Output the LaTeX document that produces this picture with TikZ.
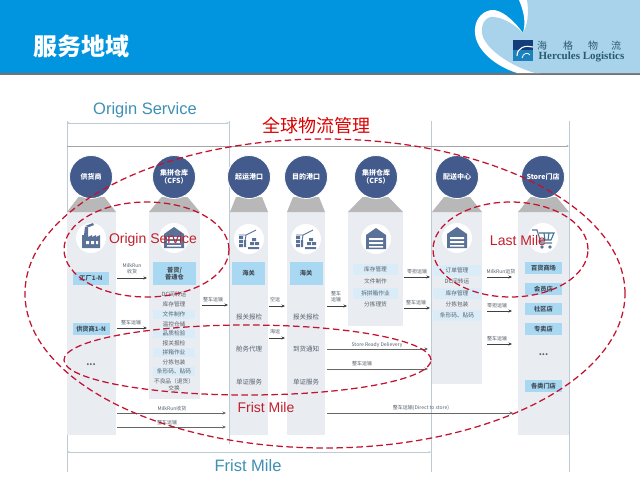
\documentclass[tikz,border=0pt]{standalone}
\usepackage{fontspec}
\setmainfont{Noto Sans CJK SC}
\newfontfamily\latinsans{Liberation Sans}
\newfontfamily\latinserif{Liberation Serif}
\usetikzlibrary{arrows.meta}
\definecolor{headblue}{HTML}{0095DE}
\definecolor{paleblue}{HTML}{A9D3EB}
\definecolor{hubblue}{HTML}{425A8C}
\definecolor{capgray}{HTML}{B8B8B8}
\definecolor{bodygray}{HTML}{E9EDF2}
\definecolor{tagblue}{HTML}{A9D8F3}
\definecolor{hlblue}{HTML}{DAECF7}
\definecolor{iconblue}{HTML}{5A7298}
\definecolor{guide}{HTML}{BCCBD4}
\definecolor{dashred}{HTML}{C4122F}
\definecolor{labelred}{HTML}{C0202C}
\definecolor{dimtext}{HTML}{3E90B4}
\definecolor{txt}{HTML}{55606B}
\definecolor{logotxt}{HTML}{2A5A72}
\definecolor{logotop}{HTML}{123F7C}
\definecolor{logobot}{HTML}{1A80BE}
\tikzset{
  x=1pt,y=-1pt,
  hub/.style={circle,fill=hubblue,draw=white,line width=.8pt,minimum size=43pt,inner sep=0pt,text=white,align=center,font=\fontsize{7}{8.6}\selectfont\bfseries},
  iconbg/.style={circle,fill=white,minimum size=30pt,inner sep=0pt},
  tag/.style={fill=tagblue,inner sep=0pt,text=txt!80!black,align=center,font=\fontsize{6.2}{7.6}\selectfont\bfseries},
  rowtxt/.style={inner sep=0pt,text=txt,align=center,font=\fontsize{5.7}{7}\selectfont},
  rowhl/.style={rowtxt,fill=hlblue},
  bigtxt/.style={inner sep=0pt,text=txt,font=\fontsize{6.5}{8}\selectfont},
  flowlabel/.style={inner sep=0pt,text=txt,align=center,font=\fontsize{5}{6.4}\selectfont},
  flowline/.style={draw=black!75,line width=.6pt,-{Stealth[length=3.5pt,width=3pt]}},
  longline/.style={draw=black!60,line width=.8pt,-{Stealth[length=3.5pt,width=3pt]}},
  guideline/.style={draw=guide,line width=.8pt},
  dimline/.style={draw=black!35,line width=.7pt},
  zone/.style={draw=dashred,line width=1.25pt,dash pattern=on 6.5pt off 3.5pt},
  zonelabel/.style={inner sep=0pt,text=labelred,font=\latinsans\fontsize{14}{15}\selectfont},
  dimlabel/.style={inner sep=0pt,text=dimtext,font=\latinsans\fontsize{16.5}{18}\selectfont},
}
\newcommand{\flow}[7]{%
  \coordinate (#1-s) at (#2,#4);\coordinate (#1-e) at (#3,#4);
  \draw[flowline] (#1-s) -- (#1-e);
  \node[flowlabel] (#1-l) at (#5,#6) {#7};}
\newcommand{\longflow}[7]{%
  \coordinate (#1-s) at (#2,#4);\coordinate (#1-e) at (#3,#4);
  \draw[longline] (#1-s) -- (#1-e);
  \node[flowlabel] (#1-l) at (#5,#6) {#7};}
\newcommand{\hubcol}[3]{% left, right, bottom
  \fill[bodygray] (#1,212) rectangle (#2,#3);
  \fill[capgray] (#1,212) -- ({(#1+#2)/2-13},197) -- ({(#1+#2)/2+13},197) -- (#2,212) -- cycle;}
\newcommand{\iconfactory}[2]{\begin{scope}[shift={(#1,#2)}]
  \fill[iconblue] (-9,10) -- (-9,-3) -- (-7,-3) -- (-6,-11) -- (-3,-11) -- (-3,-1) -- (1,-3) -- (1,-1) -- (5,-3) -- (5,-1) -- (9,-3) -- (9,10) -- cycle;
  \fill[iconblue] (-6,-12) -- (2,-15) -- (3,-13) -- (-2,-11) -- cycle;
  \fill[white] (-5,3) rectangle (-2,6) (0,3) rectangle (3,6) (5,3) rectangle (7,6);
\end{scope}}
\newcommand{\iconhouse}[2]{\begin{scope}[shift={(#1,#2)}]
  \fill[iconblue] (-10,10) -- (-10,-4) -- (0,-11) -- (10,-4) -- (10,10) -- cycle;
  \fill[white] (-7,-1) rectangle (7,1) (-7,3) rectangle (7,5) (-7,7) rectangle (7,8.5);
\end{scope}}
\newcommand{\iconcrane}[2]{\begin{scope}[shift={(#1,#2)}]
  \fill[iconblue] (-10,-3) rectangle (-6,0) (-10,1) rectangle (-6,4) (-10,5) rectangle (-6,8)
     (-5,1) rectangle (-3,8) (1,3) rectangle (5,6) (6,3) rectangle (10,6) (-1,8) rectangle (10,10) (3,-1) rectangle (7,2);
  \draw[iconblue,line width=.9pt] (-4,2) -- (-3,-4) -- (7,-9) (-3,-4) -- (-10,-4);
\end{scope}}
\newcommand{\iconcart}[2]{\begin{scope}[shift={(#1,#2)}]
  \draw[iconblue,line width=1.1pt] (-11,-8) -- (-6,-8) -- (-2,5) -- (9,5);
  \draw[iconblue!70!teal,line width=1.1pt] (-4,-5) -- (11,-5) -- (8,2) -- (-2,2) (1,-5) -- (2,2) (6,-5) -- (5,2);
  \fill[iconblue] (-1,9) circle (1.8pt) (7,9) circle (1.8pt);
\end{scope}}
\begin{document}
\begin{tikzpicture}
\useasboundingbox (0,0) rectangle (640,480);
\fill[white] (0,0) rectangle (640,480);
% header
\fill[black!55] (0,72) rectangle (640,75);
\fill[headblue] (0,0) rectangle (640,73);
% white swoosh
\fill[white] (519,0) .. controls (524,12) and (526,22) .. (523,33) .. controls (512,18) and (500,9) .. (491,10) .. controls (480,12) and (474,22) .. (475,33) .. controls (476,50) and (495,66) .. (517,73) -- (540,73) -- (540,20) -- (528,0) -- cycle;
% pale field
\fill[paleblue] (527,0) -- (640,0) -- (640,73) -- (535,73) .. controls (510,66) and (484,48) .. (482,33) .. controls (481,22) and (487,16) .. (494,17) .. controls (505,18) and (516,26) .. (523,33) .. controls (528,24) and (529,12) .. (527,0) -- cycle;
\node[inner sep=0pt,text=white,font=\fontsize{24}{26}\selectfont\bfseries] (title) at (82,46) {服务地域};
% logo
\fill[logotop] (513,40) rectangle (533,50);
\fill[logobot] (513,50) rectangle (533,61);
\draw[white,line width=1.1pt] (517,56) .. controls (517,47) and (526,45) .. (533,47);
\draw[white,line width=.8pt] (522,58) .. controls (523,53) and (528,52) .. (530,55);
\node[inner sep=0pt,text=logotxt,font=\fontsize{10}{12}\selectfont] (logoa) at (542,45.5) {海};
\node[inner sep=0pt,text=logotxt,font=\fontsize{10}{12}\selectfont] (logob) at (568,45.5) {格};
\node[inner sep=0pt,text=logotxt,font=\fontsize{10}{12}\selectfont] (logoc) at (593,45.5) {物};
\node[inner sep=0pt,text=logotxt,font=\fontsize{10}{12}\selectfont] (logod) at (616,45.5) {流};
\node[inner sep=0pt,text=logotxt,font=\latinserif\bfseries\fontsize{11}{12}\selectfont] (logoen) at (581.5,57) {Hercules Logistics};
% dimension guides
\draw[guideline] (67,121) -- (67,472);
\draw[guideline] (229,121) -- (229,444);
\draw[guideline] (431,121) -- (431,472);
\draw[guideline] (569,121) -- (569,472);
\coordinate (d1a) at (67,123);\coordinate (d1b) at (229,123);
\draw[guideline,{Stealth[length=2.5pt,width=2pt]}-{Stealth[length=2.5pt,width=2pt]}] (d1a) -- (d1b);
\coordinate (d2a) at (67,146);\coordinate (d2b) at (569,146);
\draw[dimline,-{Stealth[length=2.5pt,width=2pt]}] (d2a) -- (d2b);
\coordinate (d3a) at (67,452);\coordinate (d3b) at (431,452);
\draw[guideline,{Stealth[length=2.5pt,width=2pt]}-{Stealth[length=2.5pt,width=2pt]}] (d3a) -- (d3b);
\node[dimlabel] (origin) at (145,110) {Origin Service};
\node[dimlabel] (first) at (248,466) {Frist Mile};
% columns
\hubcol{67}{116}{435}
\hubcol{149}{200}{399}
\hubcol{230}{268}{435}
\hubcol{287}{325}{435}
\hubcol{348}{403}{326}
\hubcol{432}{482}{384}
\hubcol{518}{569}{435}
\node[hub] (h1) at (91,177) {供货商};
\node[hub] (h2) at (174,177) {集拼仓库\\（CFS）};
\node[hub] (h3) at (249,177) {起运港口};
\node[hub] (h4) at (306,177) {目的港口};
\node[hub] (h5) at (376,177) {集拼仓库\\（CFS）};
\node[hub] (h6) at (457,177) {配送中心};
\node[hub] (h7) at (543,177) {Store门店};
% icons
\node[iconbg] (i1) at (91,238) {};\iconfactory{91}{238}
\node[iconbg] (i2) at (174,238) {};\iconhouse{174}{238}
\node[iconbg] (i3) at (249,239) {};\iconcrane{249}{239}
\node[iconbg] (i4) at (306,239) {};\iconcrane{306}{239}
\node[iconbg] (i5) at (376,239) {};\iconhouse{376}{239}
\node[iconbg] (i6) at (457,238) {};\iconhouse{457}{238}
\node[iconbg] (i7) at (543,238) {};\iconcart{543}{238}
% column 1
\node[tag,minimum width=36pt,minimum height=13pt] (c1a) at (91,278) {工厂1-N};
\node[tag,minimum width=37pt,minimum height=12pt] (c1b) at (91,329) {供货商1-N};
\node[bigtxt,font=\bfseries\fontsize{9}{9}\selectfont] (c1c) at (91,365) {...};
% column 2
\node[tag,minimum width=43pt,minimum height=23pt] (c2a) at (174.5,273.5) {普货/\\普通仓};
\node[rowtxt] (c2b) at (174,294) {DC间转运};
\node[rowtxt] (c2c) at (174,304) {库存管理};
\node[rowhl,minimum width=42pt,minimum height=9pt] (c2d) at (174,314) {文件制作};
\node[rowtxt] (c2e) at (174,324) {温控仓储};
\node[rowhl,minimum width=42pt,minimum height=9pt] (c2f) at (174,333) {品质检验};
\node[rowtxt] (c2g) at (174,343) {报关报检};
\node[rowhl,minimum width=42pt,minimum height=9pt] (c2h) at (174,352) {拼箱作业};
\node[rowtxt] (c2i) at (174,362) {分拣包装};
\node[rowhl,minimum width=42pt,minimum height=9pt] (c2j) at (174,371) {条形码、贴码};
\node[rowtxt] (c2k) at (174,384.5) {不良品（退货）\\交换};
% column 3
\node[tag,minimum width=33pt,minimum height=23pt] (c3a) at (248.5,273.5) {海关};
\node[bigtxt] (c3b) at (249,317) {报关报检};
\node[bigtxt] (c3c) at (249,349) {舱务代理};
\node[bigtxt] (c3d) at (249,382) {单证服务};
% column 4
\node[tag,minimum width=33pt,minimum height=23pt] (c4a) at (306,273.5) {海关};
\node[bigtxt] (c4b) at (306,317) {报关报检};
\node[bigtxt] (c4c) at (306,349) {到货通知};
\node[bigtxt] (c4d) at (306,382) {单证服务};
% column 5
\node[rowhl,minimum width=45pt,minimum height=11pt] (c5a) at (375.5,269) {库存管理};
\node[rowtxt] (c5b) at (375.5,281) {文件制作};
\node[rowhl,minimum width=45pt,minimum height=11pt] (c5c) at (375.5,293) {拆拼箱作业};
\node[rowtxt] (c5d) at (375.5,304) {分拣理货};
% column 6
\node[rowhl,minimum width=48pt,minimum height=11pt] (c6a) at (457,270) {订单管理};
\node[rowtxt] (c6b) at (457,281) {DC间转运};
\node[rowhl,minimum width=48pt,minimum height=11pt] (c6c) at (457,293) {库存管理};
\node[rowtxt] (c6d) at (457,304) {分拣包装};
\node[rowhl,minimum width=48pt,minimum height=11pt] (c6e) at (457,315) {条形码、贴码};
% column 7
\node[tag,minimum width=37pt,minimum height=12.5pt] (c7a) at (543.5,268) {百货商场};
\node[tag,minimum width=37pt,minimum height=12.5pt] (c7b) at (543.5,289) {会员店};
\node[tag,minimum width=37pt,minimum height=12.5pt] (c7c) at (543.5,309) {社区店};
\node[tag,minimum width=37pt,minimum height=12.5pt] (c7d) at (543.5,329) {专卖店};
\node[bigtxt,font=\bfseries\fontsize{9}{9}\selectfont] (c7e) at (543.5,355) {...};
\node[tag,minimum width=37pt,minimum height=12.5pt] (c7f) at (543.5,386) {各类门店};
% flows
\flow{f1}{117}{147}{278}{132}{268.5}{MilkRun\\收货}
\flow{f2}{202}{228}{305}{213}{300}{整车运输}
\flow{f3}{117}{147}{328}{131}{323}{整车运输}
\longflow{f4}{117}{226}{413}{172}{409}{MilkRun收货}
\longflow{f5}{117}{226}{427}{167}{423}{整车运输}
\flow{f6}{269}{285}{306}{275}{300}{空运}
\flow{f7}{269}{285}{338}{275}{332}{海运}
\flow{f8}{327}{347}{306}{336}{296.5}{整车\\运输}
\longflow{f9}{327}{428}{349}{377}{345}{Store Ready Delievery}
\longflow{f10}{327}{428}{369}{362}{364}{整车运输}
\longflow{f11}{327}{513}{413}{421}{408}{整车运输(Direct to store)}
\flow{f12}{404}{430}{277}{417}{272}{零担运输}
\flow{f13}{404}{430}{308}{416}{303}{整车运输}
\flow{f14}{487}{512}{277}{501}{272}{MilkRun运货}
\flow{f15}{487}{512}{311}{497}{306}{零担运输}
\flow{f16}{487}{512}{344}{497}{339}{整车运输}
% red zones
\draw[zone] (325,293.5) circle [x radius=300pt,y radius=154.5pt];
\draw[zone] (146.5,249.5) circle [x radius=82.5pt,y radius=47.5pt];
\draw[zone] (510.5,249.5) circle [x radius=77.5pt,y radius=47.5pt];
\draw[zone] (247.5,360) circle [x radius=183.5pt,y radius=35pt];
\node[inner sep=0pt,text=red!85!black,font=\fontsize{18}{20}\selectfont] (global) at (316,126) {全球物流管理};
\node[zonelabel] (zo) at (153,240) {Origin Service};
\node[zonelabel] (zl) at (518,240) {Last Mile};
\node[zonelabel] (zf) at (266,407) {Frist Mile};
\end{tikzpicture}
\end{document}
